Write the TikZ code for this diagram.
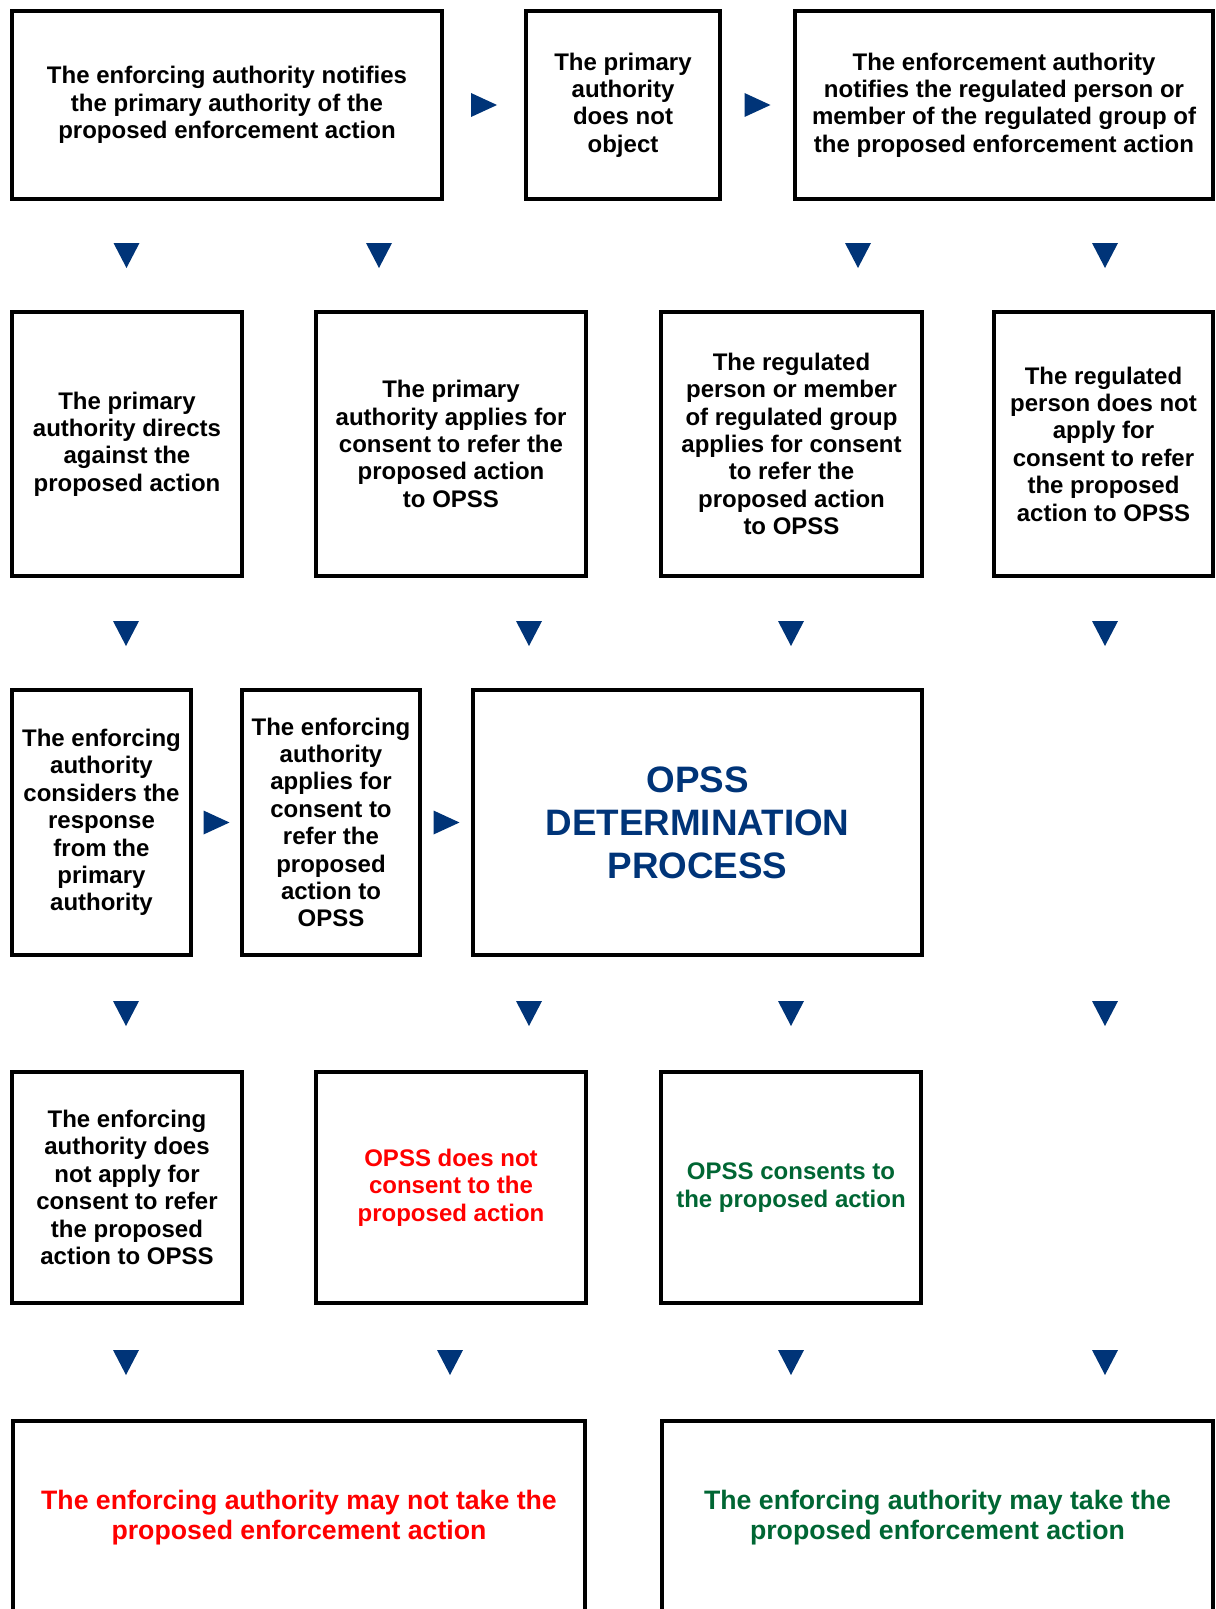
\documentclass[tikz,border=0pt]{standalone}
\usepackage{fontspec}
\setmainfont{Liberation Sans}
\usepackage{tikz}
\usetikzlibrary{calc}
\definecolor{opssblue}{RGB}{0,52,120}
\definecolor{nogored}{RGB}{255,0,0}
\definecolor{gogreen}{RGB}{0,102,51}

\begin{document}
\begin{tikzpicture}[x=0.75pt,y=-0.75pt,
	box/.style={draw,line width=3.4pt,align=center,inner sep=0pt,font=\bfseries\fontsize{18}{20.55}\selectfont},
	endbox/.style={box,font=\bfseries\fontsize{20}{22.4}\selectfont},
	pics/downtri/.style={code={\fill[opssblue] (-13,-12.5) -- (13,-12.5) -- (0,12.5) -- cycle;}},
	pics/righttri/.style={code={\fill[opssblue] (-13,-12) -- (13,0) -- (-13,12) -- cycle;}}]
	\useasboundingbox (0,0) rectangle (1216,1609);
	% first row
	\node[box,minimum width=322.5pt,minimum height=141pt] (notify) at (227,105) {The enforcing authority notifies\\the primary authority of the\\proposed enforcement action};
	\node[box,minimum width=145.5pt,minimum height=141pt] (noobject) at (623,105) {The primary\\authority\\does not\\object};
	\node[box,minimum width=313.5pt,minimum height=141pt] (notifyreg) at (1004,105) {The enforcement authority\\notifies the regulated person or\\member of the regulated group of\\the proposed enforcement action};
	% second row
	\node[box,minimum width=172.5pt,minimum height=198pt] (directs) at (127,444) {The primary\\authority directs\\against the\\proposed action};
	\node[box,minimum width=202.5pt,minimum height=198pt] (paapplies) at (451,444) {The primary\\authority applies for\\consent to refer the\\proposed action\\to OPSS};
	\node[box,minimum width=195.75pt,minimum height=198pt] (regapplies) at (791.5,444) {The regulated\\person or member\\of regulated group\\applies for consent\\to refer the\\proposed action\\to OPSS};
	\node[box,minimum width=164.25pt,minimum height=198pt] (regnot) at (1103.5,444) {The regulated\\person does not\\apply for\\consent to refer\\the proposed\\action to OPSS};
	% third row
	\node[box,minimum width=134.25pt,minimum height=198.75pt] (considers) at (101.5,822.5) {The enforcing\\authority\\considers the\\response\\from the\\primary\\authority};
	\node[box,minimum width=133.5pt,minimum height=198.75pt] (eaapplies) at (331,822.5) {The enforcing\\authority\\applies for\\consent to\\refer the\\proposed\\action to\\OPSS};
	\node[box,minimum width=336.75pt,minimum height=198.75pt,text=opssblue,font=\bfseries\fontsize{27.6}{32.3}\selectfont] (process) at (697.5,822.5) {OPSS\\DETERMINATION\\PROCESS};
	% fourth row
	\node[box,minimum width=172.5pt,minimum height=173.25pt] (eanot) at (127,1187.5) {The enforcing\\authority does\\not apply for\\consent to refer\\the proposed\\action to OPSS};
	\node[box,minimum width=202.5pt,minimum height=173.25pt,text=nogored] (refuse) at (451,1187.5) {OPSS does not\\consent to the\\proposed action};
	\node[box,minimum width=195pt,minimum height=173.25pt,text=gogreen] (consent) at (791,1187.5) {OPSS consents to\\the proposed action};
	% outcomes
	\node[endbox,minimum width=429pt,minimum height=145.5pt,text=nogored] (maynot) at (299,1518) {The enforcing authority may not take the\\proposed enforcement action};
	\node[endbox,minimum width=413.25pt,minimum height=145.5pt,text=gogreen] (may) at (937.5,1518) {The enforcing authority may take the\\proposed enforcement action};
	% arrows
	\pic at ($(notify.east)!0.5!(noobject.west)$) {righttri};
	\pic at ($(noobject.east)!0.5!(notifyreg.west)$) {righttri};
	\pic at ($(considers.east)!0.5!(eaapplies.west)$) {righttri};
	\pic at ($(eaapplies.east)!0.5!(process.west)$) {righttri};
	\foreach \x in {126.5,379,858,1105} \pic at (\x,255.5) {downtri};
	\foreach \x in {126,529,791,1105} {
		\pic at (\x,633.5) {downtri};
		\pic at (\x,1013.5) {downtri};
	}
	\foreach \x in {126,450,791,1105} \pic at (\x,1362.5) {downtri};
\end{tikzpicture}
\end{document}
